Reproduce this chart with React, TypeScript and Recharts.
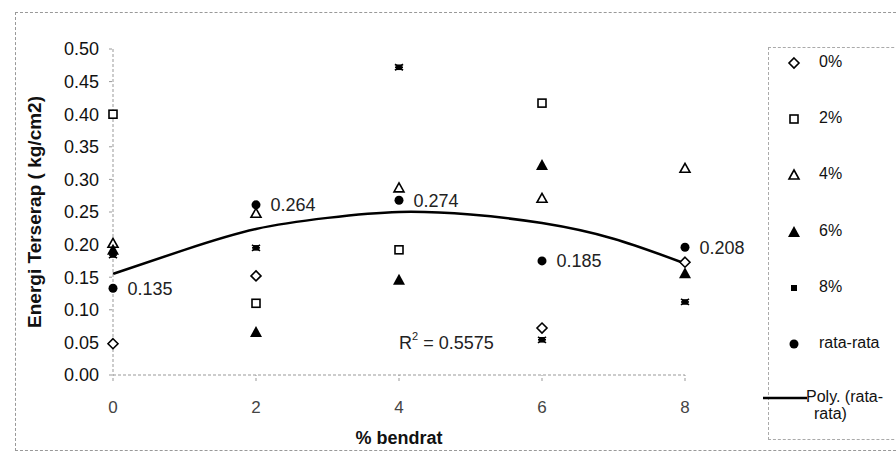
import React from 'react'
import {
  ComposedChart,
  Scatter,
  Line,
  XAxis,
  YAxis,
  LabelList,
  ReferenceDot,
} from 'recharts'

// % bendrat on the x axis
const xValues = [0, 2, 4, 6, 8]

// energy absorbed (kg/cm2) per series
const pct0 = [0.048, 0.152, null, 0.072, 0.173]
const pct2 = [0.4, 0.11, 0.192, 0.417, null]
const pct4 = [0.202, 0.248, 0.287, 0.271, 0.317]
const pct6 = [0.192, 0.066, 0.146, 0.322, 0.156]
const pct8 = [0.184, 0.195, 0.472, 0.054, 0.112]
const rataRata = [0.133, 0.261, 0.268, 0.175, 0.196]
const rataLabels = ['0.135', '0.264', '0.274', '0.185', '0.208']

// Poly. (rata-rata) trend line
const trendX = [0, 1, 2, 3, 4, 5, 6, 7, 8]
const trendY = [0.155, 0.192, 0.224, 0.241, 0.25, 0.246, 0.233, 0.209, 0.171]

const yTicks = [0, 0.05, 0.1, 0.15, 0.2, 0.25, 0.3, 0.35, 0.4, 0.45, 0.5]
const xTicks = [0, 2, 4, 6, 8]

const FONT = '"Liberation Sans", Arial, sans-serif'

type Pt = { x: number; y: number; label?: string }

function toPoints(ys: (number | null)[], labels?: string[]): Pt[] {
  const out: Pt[] = []
  xValues.forEach((x, i) => {
    const y = ys[i]
    if (y != null) out.push({ x, y, label: labels ? labels[i] : undefined })
  })
  return out
}

const trendData = trendX.map((x, i) => ({ x, y: trendY[i] }))

type Kind = 'diamond' | 'square' | 'triOpen' | 'triFilled' | 'star' | 'dot' | 'small'

function Marker({ kind, cx, cy }: { kind: Kind; cx: number; cy: number }) {
  switch (kind) {
    case 'diamond':
      return (
        <path
          d={`M${cx},${cy - 5} L${cx + 5},${cy} L${cx},${cy + 5} L${cx - 5},${cy} Z`}
          fill="#fff"
          stroke="#000"
          strokeWidth={1.6}
        />
      )
    case 'square':
      return (
        <rect x={cx - 4} y={cy - 4} width={8} height={8} fill="#fff" stroke="#000" strokeWidth={1.6} />
      )
    case 'triOpen':
      return (
        <path
          d={`M${cx},${cy - 5} L${cx + 5},${cy + 4} L${cx - 5},${cy + 4} Z`}
          fill="#fff"
          stroke="#000"
          strokeWidth={1.6}
        />
      )
    case 'triFilled':
      return <path d={`M${cx},${cy - 6} L${cx + 6},${cy + 5} L${cx - 6},${cy + 5} Z`} fill="#000" />
    case 'star':
      return (
        <g stroke="#000" strokeWidth={1.6}>
          <line x1={cx - 4} y1={cy - 3} x2={cx + 4} y2={cy + 3} />
          <line x1={cx - 4} y1={cy + 3} x2={cx + 4} y2={cy - 3} />
          <line x1={cx - 4} y1={cy} x2={cx + 4} y2={cy} />
          <rect x={cx - 2} y={cy - 2} width={4} height={4} fill="#000" />
        </g>
      )
    case 'small':
      return <rect x={cx - 3} y={cy - 3} width={6} height={6} fill="#000" />
    default:
      return <circle cx={cx} cy={cy} r={4.5} fill="#000" />
  }
}

const shapeOf = (kind: Kind) => (p: any) => <Marker kind={kind} cx={p.cx} cy={p.cy} />

const legendItems: { label: string; kind: Kind }[] = [
  { label: '0%', kind: 'diamond' },
  { label: '2%', kind: 'square' },
  { label: '4%', kind: 'triOpen' },
  { label: '6%', kind: 'triFilled' },
  { label: '8%', kind: 'small' },
  { label: 'rata-rata', kind: 'dot' },
]

function LegendBox() {
  return (
    <div
      style={{
        position: 'absolute',
        left: 768,
        top: 47,
        width: 140,
        height: 391,
        borderLeft: '1px dashed #aaa',
        borderTop: '1px dashed #aaa',
        borderBottom: '1px dashed #aaa',
        fontFamily: FONT,
        fontSize: 16,
        color: '#111',
      }}
    >
      {legendItems.map((it, i) => (
        <div
          key={it.label}
          style={{ position: 'absolute', left: 0, top: 4 + i * 56.2, height: 22, width: 130 }}
        >
          <svg width={40} height={22} style={{ position: 'absolute', left: 10, top: 0 }}>
            <Marker kind={it.kind} cx={15} cy={11} />
          </svg>
          <span style={{ position: 'absolute', left: 50, top: 1 }}>{it.label}</span>
        </div>
      ))}
      <div style={{ position: 'absolute', left: -6, top: 340, width: 140 }}>
        <svg width={46} height={12} style={{ position: 'absolute', left: 0, top: 4 }}>
          <line x1={0} y1={6} x2={44} y2={6} stroke="#000" strokeWidth={2.5} />
        </svg>
        <div style={{ position: 'absolute', left: 43, top: 0, lineHeight: '17px', width: 95 }}>
          Poly. (rata-
          <br />
          <span style={{ marginLeft: 8 }}>rata)</span>
        </div>
      </div>
    </div>
  )
}

export default function App() {
  return (
    <div style={{ position: 'relative', width: 896, height: 458, background: '#fff', overflow: 'hidden' }}>
      <style>{'body{margin:0}'}</style>
      <div
        style={{
          position: 'absolute',
          left: 15,
          top: 12,
          width: 900,
          height: 437,
          borderLeft: '1px dashed #999',
          borderTop: '1px dashed #999',
          borderBottom: '1px dashed #999',
        }}
      />
      <ComposedChart
        width={896}
        height={458}
        margin={{ top: 49, right: 211, bottom: 26, left: 15 }}
        style={{ position: 'absolute', left: 0, top: 0, fontFamily: FONT }}
      >
        <XAxis
          type="number"
          dataKey="x"
          domain={[0, 8]}
          ticks={xTicks}
          height={57}
          stroke="#999"
          strokeDasharray="3 2"
          tickSize={6}
          tickMargin={20}
          tick={{ fill: '#444', fontSize: 17, fontFamily: FONT }}
          label={(props: any) => {
            const vb = props.viewBox
            return (
              <text
                x={vb.x + vb.width / 2}
                y={438}
                textAnchor="middle"
                dominantBaseline="central"
                fontFamily={FONT}
                fontSize={18}
                fontWeight="bold"
                fill="#111"
              >
                % bendrat
              </text>
            )
          }}
        />
        <YAxis
          type="number"
          dataKey="y"
          domain={[0, 0.5]}
          ticks={yTicks}
          width={98}
          stroke="#999"
          strokeDasharray="3 2"
          tickSize={4}
          tickMargin={10}
          tickFormatter={(v: number) => v.toFixed(2)}
          tick={{ fill: '#111', fontSize: 18, fontFamily: FONT }}
          label={(props: any) => {
            const vb = props.viewBox
            const cx = 34
            const cy = vb.y + vb.height / 2
            return (
              <text
                x={cx}
                y={cy}
                transform={`rotate(-90, ${cx}, ${cy})`}
                textAnchor="middle"
                dominantBaseline="central"
                fontFamily={FONT}
                fontSize={19}
                fontWeight="bold"
                fill="#111"
              >
                Energi Terserap ( kg/cm2)
              </text>
            )
          }}
        />
        <Line
          data={trendData}
          dataKey="y"
          type="natural"
          stroke="#000"
          strokeWidth={2.5}
          dot={false}
          activeDot={false}
          isAnimationActive={false}
        />
        <Scatter data={toPoints(pct2)} shape={shapeOf('square')} isAnimationActive={false} />
        <Scatter data={toPoints(pct4)} shape={shapeOf('triOpen')} isAnimationActive={false} />
        <Scatter data={toPoints(pct6)} shape={shapeOf('triFilled')} isAnimationActive={false} />
        <Scatter data={toPoints(pct8)} shape={shapeOf('star')} isAnimationActive={false} />
        <Scatter data={toPoints(pct0)} shape={shapeOf('diamond')} isAnimationActive={false} />
        <Scatter data={toPoints(rataRata, rataLabels)} shape={shapeOf('dot')} isAnimationActive={false}>
          <LabelList
            dataKey="label"
            position="right"
            offset={10}
            fill="#222"
            fontSize={18}
            fontFamily={FONT}
          />
        </Scatter>
        <ReferenceDot
          x={4}
          y={0.049}
          r={0}
          fill="none"
          stroke="none"
          label={(props: any) => {
            const vb = props.viewBox
            return (
              <text x={vb.x} y={vb.y} dominantBaseline="central" fontFamily={FONT} fontSize={18} fill="#222">
                R<tspan dy={-7} fontSize={11}>2</tspan>
                <tspan dy={7}> = 0.5575</tspan>
              </text>
            )
          }}
        />
      </ComposedChart>
      <LegendBox />
    </div>
  )
}
